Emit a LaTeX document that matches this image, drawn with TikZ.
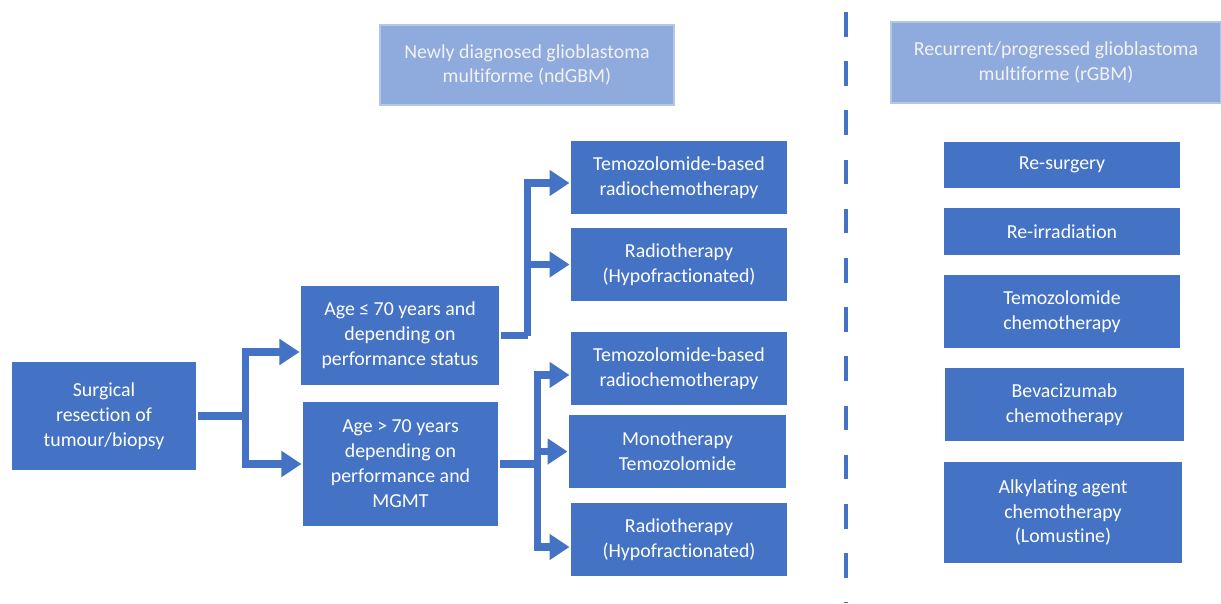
\documentclass[tikz,border=0pt]{standalone}
\usepackage{fontspec}
\setmainfont{Carlito}[Ligatures=NoCommon]
\usetikzlibrary{arrows.meta}

\definecolor{boxblue}{HTML}{4472C4}
\definecolor{headblue}{HTML}{8FAADC}
\definecolor{headline}{HTML}{B4C7E7}

\begin{document}
\begin{tikzpicture}[x=0.02cm, y=-0.02cm,
  font=\fontsize{11.3}{14.2}\selectfont,
  box/.style={fill=boxblue, draw=white, line width=0.6pt, text=white,
    align=center, inner sep=0pt},
  head/.style={fill=headblue, draw=headline, line width=1.2pt, text=white!95!black,
    align=center, inner sep=0pt},
  link/.style={draw=boxblue, line width=4pt},
  tip/.style={link, -{Triangle[length=0.4cm, width=0.5cm]}},
  divider/.style={draw=boxblue, line width=1.8pt, dash pattern=on 14pt off 14pt}]
  \useasboundingbox (0,0) rectangle (1221,603);

  \node[head, minimum width=5.88cm, minimum height=1.6cm] (ndhead) at (527,65)
    {Newly diagnosed glioblastoma\\multiforme (ndGBM)};
  \node[head, minimum width=6.6cm, minimum height=1.62cm] (rhead) at (1056,62.5)
    {Recurrent/progressed glioblastoma\\multiforme (rGBM)};

  \draw[divider] (846,12) -- (846,603);

  \node[box, minimum width=3.72cm, minimum height=2.2cm] (surg) at (104,416)
    {Surgical\\resection of\\tumour/biopsy};
  \node[box, minimum width=4cm, minimum height=2.02cm] (age1) at (400,335.5)
    {Age ≤ 70 years and\\depending on\\performance status};
  \node[box, minimum width=3.94cm, minimum height=2.52cm] (age2) at (400.5,464)
    {Age > 70 years\\depending on\\performance and\\MGMT};

  \node[box, minimum width=4.36cm, minimum height=1.5cm] (tmzrc1) at (679,177.5)
    {Temozolomide-based\\radiochemotherapy};
  \node[box, minimum width=4.36cm, minimum height=1.5cm] (radio1) at (679,264.5)
    {Radiotherapy\\(Hypofractionated)};
  \node[box, minimum width=4.36cm, minimum height=1.5cm] (tmzrc2) at (679,368.5)
    {Temozolomide-based\\radiochemotherapy};
  \node[box, minimum width=4.38cm, minimum height=1.5cm] (mono) at (677.5,451.5)
    {Monotherapy\\Temozolomide};
  \node[box, minimum width=4.36cm, minimum height=1.5cm] (radio2) at (679,539.5)
    {Radiotherapy\\(Hypofractionated)};

  \node[box, minimum width=4.76cm, minimum height=0.96cm] (resurg) at (1062,165)
    {Re-surgery};
  \node[box, minimum width=4.76cm, minimum height=0.98cm] (reirr) at (1062,231.5)
    {Re-irradiation};
  \node[box, minimum width=4.76cm, minimum height=1.5cm] (tmzchemo) at (1062,311.5)
    {Temozolomide\\chemotherapy};
  \node[box, minimum width=4.82cm, minimum height=1.5cm] (beva) at (1064.5,404.5)
    {Bevacizumab\\chemotherapy};
  \node[box, minimum width=4.8cm, minimum height=2.06cm] (alky) at (1063,512.5)
    {Alkylating agent\\chemotherapy\\(Lomustine)};

  \draw[link] (surg.east) -- ++(48,0) coordinate (split0);
  \draw[tip] (split0) |- ([yshift=-0.33cm]age1.west);
  \draw[tip] (split0) |- (age2.west);

  \draw[link] (age1.east) -- ++(27,0) coordinate (split1);
  \draw[tip] (split1) |- ([yshift=-0.11cm]tmzrc1.west);
  \draw[tip] (split1) |- (radio1.west);

  \draw[link] (age2.east) -- ++(38,0) coordinate (split2);
  \draw[tip] (split2) |- ([yshift=-0.13cm]tmzrc2.west);
  \draw[tip] (split2) |- (mono.west);
  \draw[tip] (split2) |- ([yshift=-0.15cm]radio2.west);

\end{tikzpicture}
\end{document}
